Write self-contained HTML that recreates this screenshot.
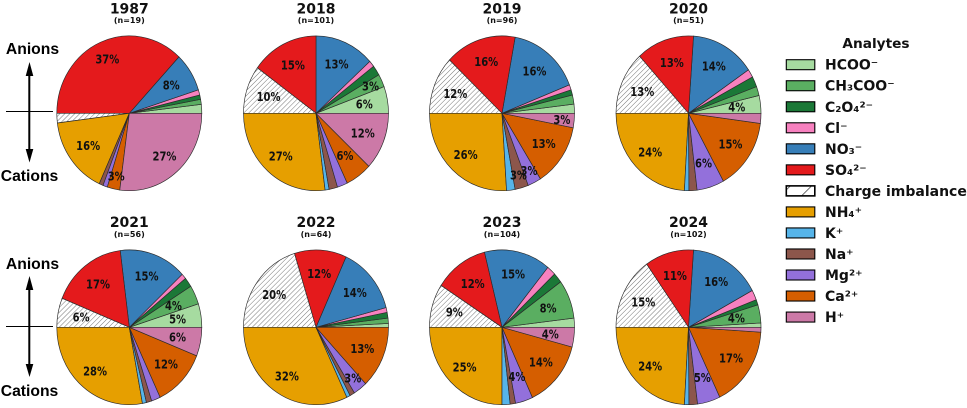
<!DOCTYPE html>
<html>
<head>
<meta charset="utf-8">
<title>Analytes pie charts</title>
<style>
html,body{margin:0;padding:0;background:#fff;}
svg{display:block;filter:blur(0.35px);}
text{font-family:"DejaVu Sans","Liberation Sans",sans-serif;font-weight:bold;fill:#111;}
.side{font-family:"Liberation Sans",sans-serif;font-size:15.7px;fill:#000;}
</style>
</head>
<body>
<svg id="chart" xmlns="http://www.w3.org/2000/svg" width="967" height="408" viewBox="0 0 967 408">
  <defs>
    <pattern id="hatch" patternUnits="userSpaceOnUse" width="3.5" height="3.5" patternTransform="rotate(-45)">
      <rect width="3.5" height="3.5" fill="#fff"/>
      <line x1="0" y1="0" x2="3.5" y2="0" stroke="#777" stroke-width="1"/>
    </pattern>
    <pattern id="hatch-legend" patternUnits="userSpaceOnUse" width="15" height="15" patternTransform="rotate(-45)">
      <rect width="15" height="15" fill="#fff"/>
      <line x1="0" y1="0" x2="15" y2="0" stroke="#111" stroke-width="1.2"/>
    </pattern>
  </defs>

  <g>
    <text class="side" x="32.5" y="54" text-anchor="middle">Anions</text>
    <text class="side" x="29.5" y="181" text-anchor="middle">Cations</text>
    <line x1="6" y1="111.5" x2="53" y2="111.5" stroke="#000" stroke-width="1"/>
    <line x1="29.3" y1="74" x2="29.3" y2="151" stroke="#000" stroke-width="2"/>
    <polygon points="29.5,62 25.7,76 33.3,76" fill="#000"/>
    <polygon points="29.5,162.5 25.7,149 33.3,149" fill="#000"/>
  </g>
  <g>
    <text class="side" x="32.5" y="269" text-anchor="middle">Anions</text>
    <text class="side" x="29.5" y="396" text-anchor="middle">Cations</text>
    <line x1="6" y1="326.5" x2="53" y2="326.5" stroke="#000" stroke-width="1"/>
    <line x1="29.3" y1="288" x2="29.3" y2="366" stroke="#000" stroke-width="2"/>
    <polygon points="29.5,276 25.7,290 33.3,290" fill="#000"/>
    <polygon points="29.5,377 25.7,364 33.3,364" fill="#000"/>
  </g>

  <g id="pies"></g>
  <g id="legend"></g>
</svg>

<script>
// Chart data: percent of ion balance, order = analytes
const analytes = ['HCOO\u207B','CH\u2083COO\u207B','C\u2082O\u2084\u00B2\u207B','Cl\u207B','NO\u2083\u207B','SO\u2084\u00B2\u207B','Charge imbalance','NH\u2084\u207A','K\u207A','Na\u207A','Mg\u00B2\u207A','Ca\u00B2\u207A','H\u207A'];
const analyteKeys = ['hcoo','ch3coo','c2o4','cl','no3','so4','charge-imbalance','nh4','k','na','mg','ca','h'];
const analyteColors = ['#a6dba0','#5aae61','#1b7837','#f781bf','#377eb8','#e41a1c','url(#hatch)','#e69f00','#56b4e9','#8c564b','#9370db','#d55e00','#cc79a7'];
const years = ['1987','2018','2019','2020','2021','2022','2023','2024'];
const sampleCounts = [19,101,96,51,56,64,104,102];
const values1987 = [1.85,1.05,0.9,1.1,8.1,37,2,16.2,0,0.9,1,2.8,27.1];
const values2018 = [5.6,2.7,2.1,1.3,13.3,15,10,27,0.9,1.9,2.3,5.9,12];
const values2019 = [1.9,1.9,1.1,1.1,16.1,15.8,12.1,26,1.9,3,3,13.1,3];
const values2020 = [3.7,1.9,2.2,1.7,14.4,12.9,13.2,24.1,1,1.8,6.1,14.9,2.1];
const values2021 = [4.9,4,2,1.1,15,16.9,6.1,27.9,0.9,1.2,2,12,6];
const values2022 = [0.8,1.1,1.2,1,14.1,11.6,20.2,32,0.8,1.1,3.1,13,0];
const values2023 = [1.9,8.1,2.1,2,14.8,12,9.1,25,1.8,1.2,3.9,14,4.1];
const values2024 = [0.9,3.8,1.1,2.1,16,10.9,15.2,24.1,1,1.9,5.1,16.9,1];
const seriesByYear = [values1987,values2018,values2019,values2020,values2021,values2022,values2023,values2024];

const NS = 'http://www.w3.org/2000/svg';
const COL_X = [129.3,316,502,688.5];
const ROW_Y = [113.3,327.3];
const ROW_TITLE_Y = [13.5,227];
const ROW_N_Y = [23,237];
const RX = 72.5, RY = 77.4;

function svgEl(tag, parent){
  const el = document.createElementNS(NS, tag);
  parent.appendChild(el);
  return el;
}
// angle scale: cumulative percent -> radians, counter-clockwise from east
function angleOf(cum, total){ return cum / total * 2 * Math.PI; }
function labelRadius(p){ return p < 3.5 ? 0.83 : 0.66 + 0.0028 * p; }

function drawPie(i){
  const vals = seriesByYear[i];
  const cx = COL_X[i % 4], row = Math.floor(i / 4), cy = ROW_Y[row];
  const total = vals.reduce((a,b)=>a+b,0);
  const g = svgEl('g', document.getElementById('pies'));
  
  

  const title = svgEl('text', g);
  
  
  title.setAttribute('x', cx);
  title.setAttribute('y', ROW_TITLE_Y[row]);
  title.setAttribute('text-anchor', 'middle');
  title.setAttribute('font-size', '14');
  title.textContent = years[i];

  const nText = svgEl('text', g);
  
  
  nText.setAttribute('x', cx);
  nText.setAttribute('y', ROW_N_Y[row]);
  nText.setAttribute('text-anchor', 'middle');
  nText.setAttribute('font-size', '8');
  nText.textContent = '(n=' + sampleCounts[i] + ')';

  let cum = 0;
  const labels = [];
  vals.forEach((v, k) => {
    const a0 = angleOf(cum, total);
    cum += v;
    const a1 = angleOf(cum, total);
    if (v <= 0) return;
    const x0 = cx + RX * Math.cos(a0), y0 = cy - RY * Math.sin(a0);
    const x1 = cx + RX * Math.cos(a1), y1 = cy - RY * Math.sin(a1);
    const large = (a1 - a0) > Math.PI ? 1 : 0;
    const wedge = svgEl('path', g);
    
    
    wedge.setAttribute('d', 'M' + cx + ' ' + cy + 'L' + x0.toFixed(2) + ' ' + y0.toFixed(2) + 'A' + RX + ' ' + RY + ' 0 ' + large + ' 0 ' + x1.toFixed(2) + ' ' + y1.toFixed(2) + 'Z');
    wedge.setAttribute('fill', analyteColors[k]);
    wedge.setAttribute('stroke', '#2a2a2a');
    wedge.setAttribute('stroke-width', '0.65');
    const pct = v / total * 100;
    if (Math.round(pct) >= 3) {
      const mid = (a0 + a1) / 2, rr = labelRadius(pct);
      labels.push({x: cx + rr * RX * Math.cos(mid), y: cy - rr * RY * Math.sin(mid), t: Math.round(pct) + '%', key: analyteKeys[k]});
    }
  });
  labels.forEach(l => {
    const t = svgEl('text', g);
    
    
    t.setAttribute('transform', 'translate(' + l.x.toFixed(2) + ' ' + (l.y + 4.4).toFixed(2) + ') scale(1 1.2)');
    t.setAttribute('text-anchor', 'middle');
    t.setAttribute('font-size', '10');
    t.textContent = l.t;
  });
}
years.forEach((y, i) => drawPie(i));

function drawLegend(){
  const lg = document.getElementById('legend');
  const head = svgEl('text', lg);
  
  
  head.setAttribute('x', 876);
  head.setAttribute('y', 48);
  head.setAttribute('text-anchor', 'middle');
  head.setAttribute('font-size', '13.7');
  head.textContent = 'Analytes';
  analytes.forEach((name, k) => {
    const yc = 64.7 + k * 21.03;
    const entry = svgEl('g', lg);
    
    
    const sw = svgEl('rect', entry);
    
    
    sw.setAttribute('x', 786.3);
    sw.setAttribute('y', yc - 5);
    sw.setAttribute('width', 28.5);
    sw.setAttribute('height', 10);
    sw.setAttribute('fill', k === 6 ? 'url(#hatch-legend)' : analyteColors[k]);
    sw.setAttribute('stroke', '#000');
    sw.setAttribute('stroke-width', k === 6 ? '1.6' : '1.1');
    const label = svgEl('text', entry);
    
    
    label.setAttribute('x', 825);
    label.setAttribute('y', yc + 5);
    label.setAttribute('font-size', '14');
    label.textContent = name;
  });
}
drawLegend();
</script>
</body>
</html>
